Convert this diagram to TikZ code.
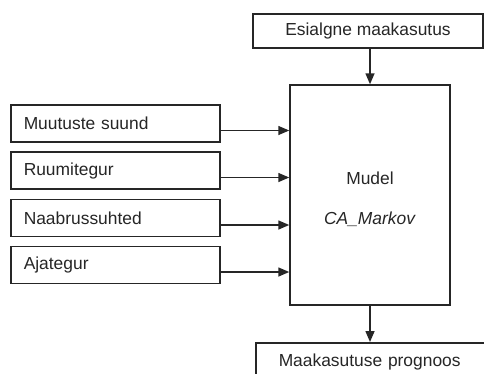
\documentclass[tikz,border=0pt]{standalone}
\usepackage{fontspec}
\setmainfont{Liberation Sans}
\usetikzlibrary{arrows.meta}
\tikzset{
  ln/.style={draw=black!85, line width=1.5pt},
  boxn/.style={ln, rectangle, inner sep=0pt, text=black!85, font=\fontsize{17.4pt}{20pt}\selectfont},
  leftbox/.style={boxn, anchor=west, minimum height=37pt, text width=183pt, inner xsep=13pt, align=left},
  arr/.style={ln, -{Triangle[length=11pt,width=9pt]}}
}
\begin{document}
\begin{tikzpicture}[x=1pt,y=-1pt]
\clip (0,0) rectangle (484,373);
\fill[white] (0,0) rectangle (484,373);
\node[boxn, minimum width=230pt, minimum height=34pt] (top) at (368,31) {Esialgne maakasutus};
\node[boxn, minimum width=160pt, minimum height=220pt, align=center, font=\fontsize{17.4pt}{40pt}\selectfont] (model) at (370,195) {\rule{0pt}{21pt}Mudel\\\textit{CA\_Markov}};
\node[boxn, anchor=north west, minimum height=38pt, text width=212pt, inner xsep=23pt, align=left] (bot) at (255,342) {Maakasutuse prognoos};
\node[leftbox] (m1) at (10,123.5) {Muutuste suund};
\node[leftbox] (m2) at (10,170.5) {Ruumitegur};
\node[leftbox] (m3) at (10,218) {Naabrussuhted};
\node[leftbox] (m4) at (10,265) {Ajategur};
\draw[arr] (model.north |- top.south) -- (model.north);
\draw[arr] (model.south) -- (model.south |- bot.north);
\foreach \m in {m1,m2,m3,m4}{
  \draw[arr] ([yshift=-7pt]\m.east) -- ([yshift=-7pt]\m.east -| model.west);
}
\end{tikzpicture}
\end{document}
